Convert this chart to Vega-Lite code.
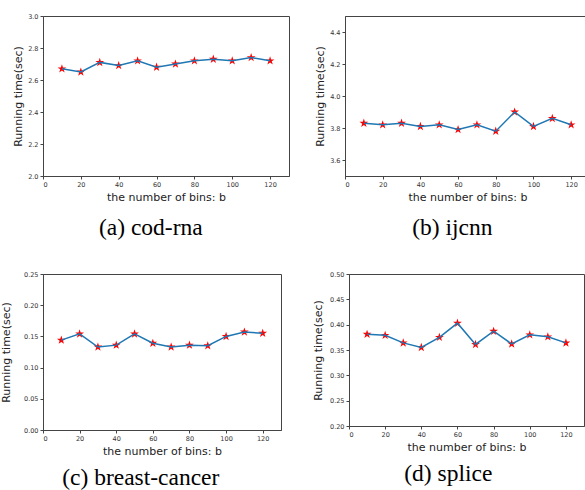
{
  "$schema": "https://vega.github.io/schema/vega-lite/v6.json",
  "background": "white",
  "padding": {"left": 0, "top": 12, "right": 0, "bottom": 0},
  "datasets": {
    "codrna": [
      {"bins": 10, "time": 2.67}, {"bins": 20, "time": 2.65}, {"bins": 30, "time": 2.71}, {"bins": 40, "time": 2.69},
      {"bins": 50, "time": 2.72}, {"bins": 60, "time": 2.68}, {"bins": 70, "time": 2.70}, {"bins": 80, "time": 2.72},
      {"bins": 90, "time": 2.73}, {"bins": 100, "time": 2.72}, {"bins": 110, "time": 2.74}, {"bins": 120, "time": 2.72}
    ],
    "ijcnn": [
      {"bins": 10, "time": 3.83}, {"bins": 20, "time": 3.82}, {"bins": 30, "time": 3.83}, {"bins": 40, "time": 3.81},
      {"bins": 50, "time": 3.82}, {"bins": 60, "time": 3.79}, {"bins": 70, "time": 3.82}, {"bins": 80, "time": 3.78},
      {"bins": 90, "time": 3.90}, {"bins": 100, "time": 3.81}, {"bins": 110, "time": 3.86}, {"bins": 120, "time": 3.82}
    ],
    "breast": [
      {"bins": 10, "time": 0.144}, {"bins": 20, "time": 0.154}, {"bins": 30, "time": 0.133}, {"bins": 40, "time": 0.136},
      {"bins": 50, "time": 0.154}, {"bins": 60, "time": 0.139}, {"bins": 70, "time": 0.133}, {"bins": 80, "time": 0.136},
      {"bins": 90, "time": 0.135}, {"bins": 100, "time": 0.150}, {"bins": 110, "time": 0.157}, {"bins": 120, "time": 0.155}
    ],
    "splice": [
      {"bins": 10, "time": 0.381}, {"bins": 20, "time": 0.379}, {"bins": 30, "time": 0.364}, {"bins": 40, "time": 0.355},
      {"bins": 50, "time": 0.375}, {"bins": 60, "time": 0.403}, {"bins": 70, "time": 0.361}, {"bins": 80, "time": 0.387},
      {"bins": 90, "time": 0.362}, {"bins": 100, "time": 0.380}, {"bins": 110, "time": 0.376}, {"bins": 120, "time": 0.364}
    ]
  },
  "config": {
    "view": {"stroke": "#444", "strokeWidth": 1},
    "axis": {
      "labelFont": "DejaVu Sans", "labelFontSize": 6.5, "labelColor": "#333",
      "titleFont": "DejaVu Sans", "titleFontSize": 11, "titleFontWeight": "normal", "titleColor": "#222",
      "grid": false, "tickColor": "#444", "domainColor": "#444", "tickSize": 3, "labelPadding": 2
    },
    "point": {"shape": "M0,-1L0.2245,-0.309L0.9511,-0.309L0.3633,0.118L0.5878,0.809L0,0.382L-0.5878,0.809L-0.3633,0.118L-0.9511,-0.309L-0.2245,-0.309Z", "filled": true, "color": "red", "size": 85, "opacity": 1},
    "line": {"color": "#1f77b4", "strokeWidth": 1.5},
    "title": {"font": "Liberation Serif", "fontSize": 23.5, "fontWeight": "normal", "orient": "bottom", "color": "black", "offset": 13, "anchor": "middle", "frame": "bounds"}
  },
  "spacing": 30,
  "vconcat": [
    {
      "spacing": 24,
      "hconcat": [
        {
          "width": 246, "height": 160,
          "title": "(a) cod-rna",
          "data": {"name": "codrna"},
          "encoding": {
            "x": {"field": "bins", "type": "quantitative", "scale": {"domain": [0, 130], "nice": false}, "axis": {"values": [0, 20, 40, 60, 80, 100, 120], "title": "the number of bins: b"}},
            "y": {"field": "time", "type": "quantitative", "scale": {"domain": [2.0, 3.0], "nice": false, "zero": false}, "axis": {"values": [2.0, 2.2, 2.4, 2.6, 2.8, 3.0], "format": ".1f", "title": "Running time(sec)"}}
          },
          "layer": [
            {"mark": {"type": "point"}},
            {"mark": {"type": "line"}}
          ]
        },
        {
          "width": 245, "height": 160,
          "title": "(b) ijcnn",
          "data": {"name": "ijcnn"},
          "encoding": {
            "x": {"field": "bins", "type": "quantitative", "scale": {"domain": [0, 130], "nice": false}, "axis": {"values": [0, 20, 40, 60, 80, 100, 120], "title": "the number of bins: b"}},
            "y": {"field": "time", "type": "quantitative", "scale": {"domain": [3.5, 4.5], "nice": false, "zero": false}, "axis": {"values": [3.6, 3.8, 4.0, 4.2, 4.4], "format": ".1f", "title": "Running time(sec)"}}
          },
          "layer": [
            {"mark": {"type": "point"}},
            {"mark": {"type": "line"}}
          ]
        }
      ]
    },
    {
      "spacing": 30,
      "hconcat": [
        {
          "width": 238, "height": 156,
          "title": {"text": "(c) breast-cancer", "offset": 9},
          "data": {"name": "breast"},
          "encoding": {
            "x": {"field": "bins", "type": "quantitative", "scale": {"domain": [0, 130], "nice": false}, "axis": {"values": [0, 20, 40, 60, 80, 100, 120], "title": "the number of bins: b"}},
            "y": {"field": "time", "type": "quantitative", "scale": {"domain": [0, 0.25], "nice": false}, "axis": {"values": [0, 0.05, 0.1, 0.15, 0.2, 0.25], "format": ".2f", "title": "Running time(sec)", "titlePadding": 12}}
          },
          "layer": [
            {"mark": {"type": "point"}},
            {"mark": {"type": "line"}}
          ]
        },
        {
          "width": 235, "height": 152,
          "title": {"text": "(d) splice", "offset": 9},
          "data": {"name": "splice"},
          "encoding": {
            "x": {"field": "bins", "type": "quantitative", "scale": {"domain": [0, 130], "nice": false}, "axis": {"values": [0, 20, 40, 60, 80, 100, 120], "title": "the number of bins: b"}},
            "y": {"field": "time", "type": "quantitative", "scale": {"domain": [0.2, 0.5], "nice": false, "zero": false}, "axis": {"values": [0.2, 0.25, 0.3, 0.35, 0.4, 0.45, 0.5], "format": ".2f", "title": "Running time(sec)", "titlePadding": 6}}
          },
          "layer": [
            {"mark": {"type": "point"}},
            {"mark": {"type": "line"}}
          ]
        }
      ]
    }
  ]
}
